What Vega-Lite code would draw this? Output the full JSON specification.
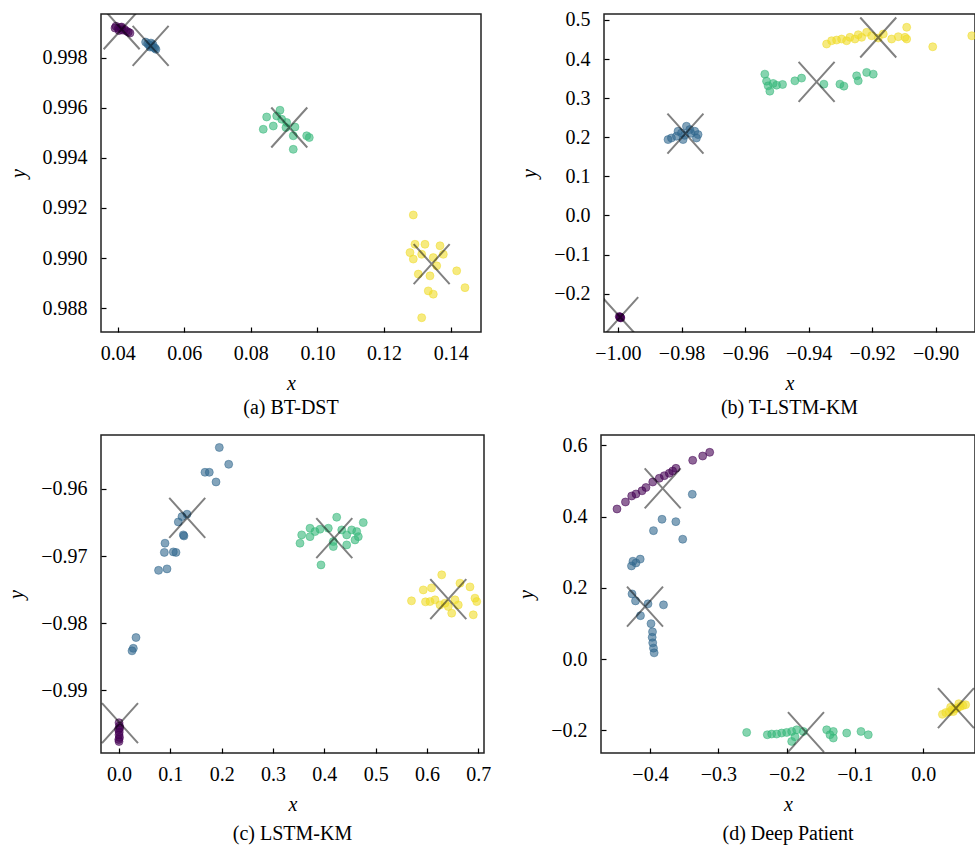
{
  "$schema": "https://vega.github.io/schema/vega-lite/v6.json",
  "padding": {"left": 5, "top": 9, "right": 0, "bottom": 0},
  "background": "white",
  "datasets": {
    "pts": [
      {"p":"a","k":0,"x":0.0392,"y":0.99918},{"p":"a","k":0,"x":0.0395,"y":0.99925},{"p":"a","k":0,"x":0.0402,"y":0.99916},{"p":"a","k":0,"x":0.0409,"y":0.99920},{"p":"a","k":0,"x":0.0414,"y":0.99910},{"p":"a","k":0,"x":0.0420,"y":0.99913},{"p":"a","k":0,"x":0.0426,"y":0.99906},{"p":"a","k":0,"x":0.0432,"y":0.99902},{"p":"a","k":0,"x":0.0412,"y":0.99922},{"p":"a","k":0,"x":0.0404,"y":0.99908},{"p":"a","k":0,"x":0.0437,"y":0.99898},
      {"p":"a","k":1,"x":0.0484,"y":0.99862},{"p":"a","k":1,"x":0.0490,"y":0.99855},{"p":"a","k":1,"x":0.0495,"y":0.99850},{"p":"a","k":1,"x":0.0500,"y":0.99858},{"p":"a","k":1,"x":0.0503,"y":0.99845},{"p":"a","k":1,"x":0.0508,"y":0.99840},{"p":"a","k":1,"x":0.0512,"y":0.99838},{"p":"a","k":1,"x":0.0515,"y":0.99833},{"p":"a","k":1,"x":0.0497,"y":0.99842},{"p":"a","k":1,"x":0.0506,"y":0.99852},
      {"p":"a","k":2,"x":0.08474,"y":0.99563},{"p":"a","k":2,"x":0.08372,"y":0.99514},{"p":"a","k":2,"x":0.08673,"y":0.99527},{"p":"a","k":2,"x":0.08874,"y":0.99590},{"p":"a","k":2,"x":0.08925,"y":0.99554},{"p":"a","k":2,"x":0.08775,"y":0.99567},{"p":"a","k":2,"x":0.09075,"y":0.99541},{"p":"a","k":2,"x":0.09324,"y":0.99523},{"p":"a","k":2,"x":0.09273,"y":0.99488},{"p":"a","k":2,"x":0.09676,"y":0.99488},{"p":"a","k":2,"x":0.09754,"y":0.99481},{"p":"a","k":2,"x":0.09273,"y":0.99434},{"p":"a","k":2,"x":0.09054,"y":0.99521},
      {"p":"a","k":3,"x":0.12877,"y":0.99172},{"p":"a","k":3,"x":0.12928,"y":0.99055},{"p":"a","k":3,"x":0.13228,"y":0.99055},{"p":"a","k":3,"x":0.13679,"y":0.99049},{"p":"a","k":3,"x":0.12877,"y":0.98996},{"p":"a","k":3,"x":0.13129,"y":0.99015},{"p":"a","k":3,"x":0.13477,"y":0.99002},{"p":"a","k":3,"x":0.13778,"y":0.99015},{"p":"a","k":3,"x":0.13027,"y":0.98936},{"p":"a","k":3,"x":0.13378,"y":0.98929},{"p":"a","k":3,"x":0.14180,"y":0.98949},{"p":"a","k":3,"x":0.14429,"y":0.98882},{"p":"a","k":3,"x":0.13327,"y":0.98869},{"p":"a","k":3,"x":0.13477,"y":0.98856},{"p":"a","k":3,"x":0.13129,"y":0.98762},{"p":"a","k":3,"x":0.13580,"y":0.98969},{"p":"a","k":3,"x":0.12778,"y":0.99022},

      {"p":"b","k":0,"x":-0.9994,"y":-0.2600},{"p":"b","k":0,"x":-0.9991,"y":-0.2620},{"p":"b","k":0,"x":-0.9996,"y":-0.2585},{"p":"b","k":0,"x":-0.9992,"y":-0.2610},{"p":"b","k":0,"x":-0.9993,"y":-0.2595},
      {"p":"b","k":1,"x":-0.98424,"y":0.1941},{"p":"b","k":1,"x":-0.98317,"y":0.1982},{"p":"b","k":1,"x":-0.9816,"y":0.2026},{"p":"b","k":1,"x":-0.98002,"y":0.2110},{"p":"b","k":1,"x":-0.97844,"y":0.2282},{"p":"b","k":1,"x":-0.9774,"y":0.2197},{"p":"b","k":1,"x":-0.97583,"y":0.2154},{"p":"b","k":1,"x":-0.97479,"y":0.2069},{"p":"b","k":1,"x":-0.97529,"y":0.1982},{"p":"b","k":1,"x":-0.97951,"y":0.1941},{"p":"b","k":1,"x":-0.98109,"y":0.2154},{"p":"b","k":1,"x":-0.9790,"y":0.2050},{"p":"b","k":1,"x":-0.9770,"y":0.2100},
      {"p":"b","k":2,"x":-0.95377,"y":0.3615},{"p":"b","k":2,"x":-0.95323,"y":0.3436},{"p":"b","k":2,"x":-0.95219,"y":0.3179},{"p":"b","k":2,"x":-0.95273,"y":0.3315},{"p":"b","k":2,"x":-0.95115,"y":0.3377},{"p":"b","k":2,"x":-0.95008,"y":0.3333},{"p":"b","k":2,"x":-0.94819,"y":0.3351},{"p":"b","k":2,"x":-0.94431,"y":0.3444},{"p":"b","k":2,"x":-0.9422,"y":0.3513},{"p":"b","k":2,"x":-0.93517,"y":0.3359},{"p":"b","k":2,"x":-0.93013,"y":0.3359},{"p":"b","k":2,"x":-0.92887,"y":0.3308},{"p":"b","k":2,"x":-0.92487,"y":0.3572},{"p":"b","k":2,"x":-0.92436,"y":0.3444},{"p":"b","k":2,"x":-0.92171,"y":0.3659},{"p":"b","k":2,"x":-0.91963,"y":0.3615},
      {"p":"b","k":3,"x":-0.93432,"y":0.4385},{"p":"b","k":3,"x":-0.93275,"y":0.4469},{"p":"b","k":3,"x":-0.93117,"y":0.4487},{"p":"b","k":3,"x":-0.92959,"y":0.4513},{"p":"b","k":3,"x":-0.92802,"y":0.4469},{"p":"b","k":3,"x":-0.92698,"y":0.4556},{"p":"b","k":3,"x":-0.9254,"y":0.4513},{"p":"b","k":3,"x":-0.92436,"y":0.4623},{"p":"b","k":3,"x":-0.92329,"y":0.4556},{"p":"b","k":3,"x":-0.92171,"y":0.4685},{"p":"b","k":3,"x":-0.92014,"y":0.4597},{"p":"b","k":3,"x":-0.91806,"y":0.4538},{"p":"b","k":3,"x":-0.91648,"y":0.4641},{"p":"b","k":3,"x":-0.91384,"y":0.4513},{"p":"b","k":3,"x":-0.91176,"y":0.4572},{"p":"b","k":3,"x":-0.90964,"y":0.4556},{"p":"b","k":3,"x":-0.90911,"y":0.4813},{"p":"b","k":3,"x":-0.90911,"y":0.4513},{"p":"b","k":3,"x":-0.90091,"y":0.4315},{"p":"b","k":3,"x":-0.88862,"y":0.4597},

      {"p":"c","k":0,"x":0.0,"y":-0.9948},{"p":"c","k":0,"x":0.001,"y":-0.9953},{"p":"c","k":0,"x":-0.001,"y":-0.9958},{"p":"c","k":0,"x":0.0005,"y":-0.9962},{"p":"c","k":0,"x":0.0,"y":-0.9966},{"p":"c","k":0,"x":0.001,"y":-0.9970},{"p":"c","k":0,"x":-0.0005,"y":-0.9973},{"p":"c","k":0,"x":0.0,"y":-0.9976},{"p":"c","k":0,"x":0.0015,"y":-0.9956},
      {"p":"c","k":1,"x":0.1954,"y":-0.95383},{"p":"c","k":1,"x":0.2137,"y":-0.95633},{"p":"c","k":1,"x":0.1675,"y":-0.95752},{"p":"c","k":1,"x":0.1759,"y":-0.95752},{"p":"c","k":1,"x":0.1890,"y":-0.95896},{"p":"c","k":1,"x":0.1325,"y":-0.96376},{"p":"c","k":1,"x":0.1227,"y":-0.96412},{"p":"c","k":1,"x":0.1155,"y":-0.96491},{"p":"c","k":1,"x":0.1253,"y":-0.96684},{"p":"c","k":1,"x":0.1265,"y":-0.96700},{"p":"c","k":1,"x":0.0896,"y":-0.96808},{"p":"c","k":1,"x":0.0883,"y":-0.96945},{"p":"c","k":1,"x":0.1058,"y":-0.96937},{"p":"c","k":1,"x":0.1110,"y":-0.96945},{"p":"c","k":1,"x":0.0770,"y":-0.97212},{"p":"c","k":1,"x":0.0935,"y":-0.9719},{"p":"c","k":1,"x":0.0331,"y":-0.98212},{"p":"c","k":1,"x":0.0279,"y":-0.98373},{"p":"c","k":1,"x":0.0253,"y":-0.9841},
      {"p":"c","k":2,"x":0.4241,"y":-0.96421},{"p":"c","k":2,"x":0.4078,"y":-0.96585},{"p":"c","k":2,"x":0.3916,"y":-0.96600},{"p":"c","k":2,"x":0.3721,"y":-0.96585},{"p":"c","k":2,"x":0.3559,"y":-0.96684},{"p":"c","k":2,"x":0.3526,"y":-0.96808},{"p":"c","k":2,"x":0.3721,"y":-0.96710},{"p":"c","k":2,"x":0.3818,"y":-0.96635},{"p":"c","k":2,"x":0.4175,"y":-0.96784},{"p":"c","k":2,"x":0.4175,"y":-0.96858},{"p":"c","k":2,"x":0.4436,"y":-0.96684},{"p":"c","k":2,"x":0.4631,"y":-0.96635},{"p":"c","k":2,"x":0.4662,"y":-0.96710},{"p":"c","k":2,"x":0.4598,"y":-0.96759},{"p":"c","k":2,"x":0.4759,"y":-0.96501},{"p":"c","k":2,"x":0.4533,"y":-0.9661},{"p":"c","k":2,"x":0.3935,"y":-0.97131},{"p":"c","k":2,"x":0.4436,"y":-0.96833},{"p":"c","k":2,"x":0.4339,"y":-0.9661},
      {"p":"c","k":3,"x":0.6287,"y":-0.97279},{"p":"c","k":3,"x":0.5928,"y":-0.97503},{"p":"c","k":3,"x":0.6088,"y":-0.97473},{"p":"c","k":3,"x":0.5698,"y":-0.97666},{"p":"c","k":3,"x":0.5971,"y":-0.97681},{"p":"c","k":3,"x":0.6059,"y":-0.97677},{"p":"c","k":3,"x":0.6156,"y":-0.97651},{"p":"c","k":3,"x":0.6254,"y":-0.97726},{"p":"c","k":3,"x":0.6351,"y":-0.97700},{"p":"c","k":3,"x":0.6482,"y":-0.97849},{"p":"c","k":3,"x":0.6610,"y":-0.97726},{"p":"c","k":3,"x":0.6643,"y":-0.97403},{"p":"c","k":3,"x":0.6838,"y":-0.97458},{"p":"c","k":3,"x":0.6935,"y":-0.97626},{"p":"c","k":3,"x":0.6969,"y":-0.97677},{"p":"c","k":3,"x":0.6902,"y":-0.97874},{"p":"c","k":3,"x":0.6546,"y":-0.97651},{"p":"c","k":3,"x":0.6415,"y":-0.97751},

      {"p":"d","k":0,"x":-0.4483,"y":0.4214},{"p":"d","k":0,"x":-0.4359,"y":0.4410},{"p":"d","k":0,"x":-0.4268,"y":0.4579},{"p":"d","k":0,"x":-0.4205,"y":0.4635},{"p":"d","k":0,"x":-0.4117,"y":0.4724},{"p":"d","k":0,"x":-0.4059,"y":0.4817},{"p":"d","k":0,"x":-0.3960,"y":0.4971},{"p":"d","k":0,"x":-0.3864,"y":0.5075},{"p":"d","k":0,"x":-0.3791,"y":0.5148},{"p":"d","k":0,"x":-0.3718,"y":0.5215},{"p":"d","k":0,"x":-0.3668,"y":0.5280},{"p":"d","k":0,"x":-0.3620,"y":0.5355},{"p":"d","k":0,"x":-0.3375,"y":0.5579},{"p":"d","k":0,"x":-0.3229,"y":0.5700},{"p":"d","k":0,"x":-0.3126,"y":0.5804},
      {"p":"d","k":1,"x":-0.3381,"y":0.4626},{"p":"d","k":1,"x":-0.3824,"y":0.3925},{"p":"d","k":1,"x":-0.3622,"y":0.3858},{"p":"d","k":1,"x":-0.3949,"y":0.3606},{"p":"d","k":1,"x":-0.3521,"y":0.3365},{"p":"d","k":1,"x":-0.4143,"y":0.2807},{"p":"d","k":1,"x":-0.4249,"y":0.2748},{"p":"d","k":1,"x":-0.4271,"y":0.2616},{"p":"d","k":1,"x":-0.4205,"y":0.2700},{"p":"d","k":1,"x":-0.4263,"y":0.1831},{"p":"d","k":1,"x":-0.4212,"y":0.1635},{"p":"d","k":1,"x":-0.4139,"y":0.1220},{"p":"d","k":1,"x":-0.4029,"y":0.1551},{"p":"d","k":1,"x":-0.3802,"y":0.1523},{"p":"d","k":1,"x":-0.3985,"y":0.0996},{"p":"d","k":1,"x":-0.3963,"y":0.0766},{"p":"d","k":1,"x":-0.3968,"y":0.0612},{"p":"d","k":1,"x":-0.3960,"y":0.0457},{"p":"d","k":1,"x":-0.3949,"y":0.0309},{"p":"d","k":1,"x":-0.3939,"y":0.0177},
      {"p":"d","k":2,"x":-0.2585,"y":-0.2057},{"p":"d","k":2,"x":-0.2283,"y":-0.2122},{"p":"d","k":2,"x":-0.2219,"y":-0.2102},{"p":"d","k":2,"x":-0.2146,"y":-0.2102},{"p":"d","k":2,"x":-0.2073,"y":-0.2074},{"p":"d","k":2,"x":-0.2000,"y":-0.2057},{"p":"d","k":2,"x":-0.1926,"y":-0.2029},{"p":"d","k":2,"x":-0.1926,"y":-0.2309},{"p":"d","k":2,"x":-0.1853,"y":-0.1982},{"p":"d","k":2,"x":-0.1878,"y":-0.2178},{"p":"d","k":2,"x":-0.1756,"y":-0.2029},{"p":"d","k":2,"x":-0.1414,"y":-0.1982},{"p":"d","k":2,"x":-0.1366,"y":-0.2122},{"p":"d","k":2,"x":-0.1317,"y":-0.2029},{"p":"d","k":2,"x":-0.1317,"y":-0.2214},{"p":"d","k":2,"x":-0.1121,"y":-0.2074},{"p":"d","k":2,"x":-0.0912,"y":-0.2029},{"p":"d","k":2,"x":-0.0805,"y":-0.2122},
      {"p":"d","k":3,"x":0.028,"y":-0.155},{"p":"d","k":3,"x":0.033,"y":-0.150},{"p":"d","k":3,"x":0.038,"y":-0.148},{"p":"d","k":3,"x":0.042,"y":-0.142},{"p":"d","k":3,"x":0.046,"y":-0.140},{"p":"d","k":3,"x":0.050,"y":-0.137},{"p":"d","k":3,"x":0.054,"y":-0.133},{"p":"d","k":3,"x":0.058,"y":-0.130},{"p":"d","k":3,"x":0.062,"y":-0.128},{"p":"d","k":3,"x":0.044,"y":-0.147},{"p":"d","k":3,"x":0.052,"y":-0.125},{"p":"d","k":3,"x":0.040,"y":-0.135}
    ],
    "ctr": [
      {"p":"a","x":0.0412,"y":0.99913},{"p":"a","x":0.0499,"y":0.99847},{"p":"a","x":0.09153,"y":0.99521},{"p":"a","x":0.13429,"y":0.98976},
      {"p":"b","x":-0.9993,"y":-0.2600},{"p":"b","x":-0.97876,"y":0.2095},{"p":"b","x":-0.93747,"y":0.3418},{"p":"b","x":-0.91806,"y":0.4551},
      {"p":"c","x":0.0019,"y":-0.99486},{"p":"c","x":0.1329,"y":-0.96431},{"p":"c","x":0.4194,"y":-0.96733},{"p":"c","x":0.6415,"y":-0.97641},
      {"p":"d","x":-0.3814,"y":0.4794},{"p":"d","x":-0.4073,"y":0.1475},{"p":"d","x":-0.1717,"y":-0.2046},{"p":"d","x":0.0478,"y":-0.1373}
    ]
  },
  "config": {
    "font": "Liberation Serif",
    "view": {"stroke": "#222222", "strokeWidth": 1.5},
    "axis": {"grid": false, "domain": false, "labelFont": "Liberation Serif", "labelFontSize": 20, "labelColor": "black", "labelFlush": false, "labelOverlap": false, "tickColor": "black", "tickSize": -5, "tickWidth": 1.2, "titleFont": "Liberation Serif", "titleFontSize": 20, "titleFontStyle": "italic", "titleFontWeight": "normal", "titleColor": "black"},
    "axisX": {"labelPadding": 16, "titlePadding": 10},
    "axisY": {"labelPadding": 19, "titlePadding": 14},
    "title": {"font": "Liberation Serif", "fontSize": 20, "fontWeight": "normal", "color": "black", "orient": "bottom", "anchor": "middle"}
  },
  "spacing": 15,
  "vconcat": [
    {"bounds": "flush", "spacing": 123, "hconcat": [
      {"width": 380, "height": 318, "title": {"text": "(a) BT-DST", "offset": 5},
       "layer": [
        {"data": {"name": "pts"}, "transform": [{"filter": "datum.p == 'a'"}],
         "mark": {"type": "circle", "size": 64, "fillOpacity": 0.6, "strokeOpacity": 0.5, "strokeWidth": 1, "clip": true},
         "encoding": {
           "x": {"field": "x", "type": "quantitative", "scale": {"domain": [0.035, 0.1491], "nice": false, "zero": false}, "axis": {"values": [0.04,0.06,0.08,0.10,0.12,0.14], "format": ".2f", "title": "x"}},
           "y": {"field": "y", "type": "quantitative", "scale": {"domain": [0.98705, 0.99974], "nice": false, "zero": false}, "axis": {"values": [0.988,0.990,0.992,0.994,0.996,0.998], "format": ".3f", "title": "y"}},
           "color": {"field": "k", "type": "nominal", "scale": {"domain": [0,1,2,3], "range": ["#440154","#31688e","#35b779","#f0dc2a"]}, "legend": null},
           "stroke": {"field": "k", "type": "nominal", "scale": {"domain": [0,1,2,3], "range": ["#440154","#31688e","#35b779","#f0dc2a"]}, "legend": null}}},
        {"data": {"name": "ctr"}, "transform": [{"filter": "datum.p == 'a'"}],
         "mark": {"type": "point", "shape": "M-0.9,-1L0.9,1M0.9,-1L-0.9,1", "size": 1600, "filled": false, "stroke": "black", "strokeWidth": 2, "strokeOpacity": 0.7, "clip": true},
         "encoding": {
           "x": {"field": "x", "type": "quantitative", "scale": {"domain": [0.035, 0.1491], "nice": false, "zero": false}},
           "y": {"field": "y", "type": "quantitative", "scale": {"domain": [0.98705, 0.99974], "nice": false, "zero": false}}}}
       ]},
      {"width": 371, "height": 318, "title": {"text": "(b) T-LSTM-KM", "offset": 5},
       "layer": [
        {"data": {"name": "pts"}, "transform": [{"filter": "datum.p == 'b'"}],
         "mark": {"type": "circle", "size": 64, "fillOpacity": 0.6, "strokeOpacity": 0.5, "strokeWidth": 1, "clip": true},
         "encoding": {
           "x": {"field": "x", "type": "quantitative", "scale": {"domain": [-1.0044, -0.8876], "nice": false, "zero": false}, "axis": {"values": [-1.0,-0.98,-0.96,-0.94,-0.92,-0.90], "format": ".2f", "title": "x"}},
           "y": {"field": "y", "type": "quantitative", "scale": {"domain": [-0.298, 0.5153], "nice": false, "zero": false}, "axis": {"values": [-0.2,-0.1,0,0.1,0.2,0.3,0.4,0.5], "format": ".1f", "title": "y"}},
           "color": {"field": "k", "type": "nominal", "scale": {"domain": [0,1,2,3], "range": ["#440154","#31688e","#35b779","#f0dc2a"]}, "legend": null},
           "stroke": {"field": "k", "type": "nominal", "scale": {"domain": [0,1,2,3], "range": ["#440154","#31688e","#35b779","#f0dc2a"]}, "legend": null}}},
        {"data": {"name": "ctr"}, "transform": [{"filter": "datum.p == 'b'"}],
         "mark": {"type": "point", "shape": "M-0.9,-1L0.9,1M0.9,-1L-0.9,1", "size": 1600, "filled": false, "stroke": "black", "strokeWidth": 2, "strokeOpacity": 0.7, "clip": true},
         "encoding": {
           "x": {"field": "x", "type": "quantitative", "scale": {"domain": [-1.0044, -0.8876], "nice": false, "zero": false}},
           "y": {"field": "y", "type": "quantitative", "scale": {"domain": [-0.298, 0.5153], "nice": false, "zero": false}}}}
       ]}
    ]},
    {"bounds": "flush", "spacing": 117, "hconcat": [
      {"width": 383, "height": 318, "title": {"text": "(c) LSTM-KM", "offset": 10},
       "layer": [
        {"data": {"name": "pts"}, "transform": [{"filter": "datum.p == 'c'"}],
         "mark": {"type": "circle", "size": 64, "fillOpacity": 0.6, "strokeOpacity": 0.5, "strokeWidth": 1, "clip": true},
         "encoding": {
           "x": {"field": "x", "type": "quantitative", "scale": {"domain": [-0.0351, 0.7111], "nice": false, "zero": false}, "axis": {"values": [0,0.1,0.2,0.3,0.4,0.5,0.6,0.7], "format": ".1f", "title": "x"}},
           "y": {"field": "y", "type": "quantitative", "scale": {"domain": [-0.99931, -0.95197], "nice": false, "zero": false}, "axis": {"values": [-0.99,-0.98,-0.97,-0.96], "format": ".2f", "title": "y"}},
           "color": {"field": "k", "type": "nominal", "scale": {"domain": [0,1,2,3], "range": ["#440154","#31688e","#35b779","#f0dc2a"]}, "legend": null},
           "stroke": {"field": "k", "type": "nominal", "scale": {"domain": [0,1,2,3], "range": ["#440154","#31688e","#35b779","#f0dc2a"]}, "legend": null}}},
        {"data": {"name": "ctr"}, "transform": [{"filter": "datum.p == 'c'"}],
         "mark": {"type": "point", "shape": "M-0.9,-1L0.9,1M0.9,-1L-0.9,1", "size": 1600, "filled": false, "stroke": "black", "strokeWidth": 2, "strokeOpacity": 0.7, "clip": true},
         "encoding": {
           "x": {"field": "x", "type": "quantitative", "scale": {"domain": [-0.0351, 0.7111], "nice": false, "zero": false}},
           "y": {"field": "y", "type": "quantitative", "scale": {"domain": [-0.99931, -0.95197], "nice": false, "zero": false}}}}
       ]},
      {"width": 374, "height": 318, "title": {"text": "(d) Deep Patient", "offset": 10},
       "layer": [
        {"data": {"name": "pts"}, "transform": [{"filter": "datum.p == 'd'"}],
         "mark": {"type": "circle", "size": 64, "fillOpacity": 0.6, "strokeOpacity": 0.5, "strokeWidth": 1, "clip": true},
         "encoding": {
           "x": {"field": "x", "type": "quantitative", "scale": {"domain": [-0.4717, 0.0757], "nice": false, "zero": false}, "axis": {"values": [-0.4,-0.3,-0.2,-0.1,0.0], "format": ".1f", "title": "x"}},
           "y": {"field": "y", "type": "quantitative", "scale": {"domain": [-0.2634, 0.629], "nice": false, "zero": false}, "axis": {"values": [-0.2,-0.1,0,0.1,0.2,0.3,0.4,0.5,0.6], "format": ".1f", "title": "y"}},
           "color": {"field": "k", "type": "nominal", "scale": {"domain": [0,1,2,3], "range": ["#440154","#31688e","#35b779","#f0dc2a"]}, "legend": null},
           "stroke": {"field": "k", "type": "nominal", "scale": {"domain": [0,1,2,3], "range": ["#440154","#31688e","#35b779","#f0dc2a"]}, "legend": null}}},
        {"data": {"name": "ctr"}, "transform": [{"filter": "datum.p == 'd'"}],
         "mark": {"type": "point", "shape": "M-0.9,-1L0.9,1M0.9,-1L-0.9,1", "size": 1600, "filled": false, "stroke": "black", "strokeWidth": 2, "strokeOpacity": 0.7, "clip": true},
         "encoding": {
           "x": {"field": "x", "type": "quantitative", "scale": {"domain": [-0.4717, 0.0757], "nice": false, "zero": false}},
           "y": {"field": "y", "type": "quantitative", "scale": {"domain": [-0.2634, 0.629], "nice": false, "zero": false}}}}
       ]}
    ]}
  ]
}
